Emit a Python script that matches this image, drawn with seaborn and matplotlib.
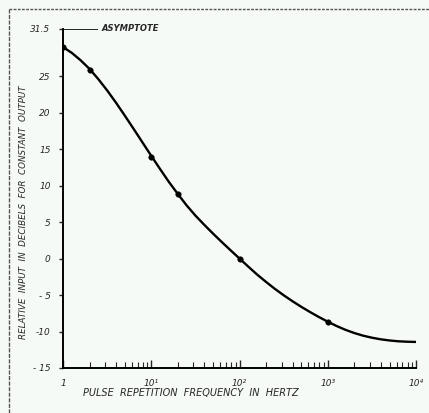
import matplotlib
matplotlib.use('Agg')
import matplotlib.pyplot as plt
from matplotlib.lines import Line2D
from matplotlib.ticker import LogLocator, NullFormatter
import seaborn as sns
import pandas as pd
import numpy as np

# measured points (markers)
freq_pts = [1, 2, 10, 20, 100, 1000]
db_pts = [29.0, 25.9, 14.0, 8.9, 0.0, -8.65]

# smooth curve (every tenth of a decade)
curve_freq = [1, 1.26, 1.58, 2.0, 2.51, 3.16, 3.98, 5.01, 6.31, 7.94,
              10, 12.6, 15.8, 20, 25.1, 31.6, 39.8, 50.1, 63.1, 79.4,
              100, 126, 158, 200, 251, 316, 398, 501, 631, 794,
              1000, 1259, 1585, 1995, 2512, 3162, 3981, 5012, 6310, 7943, 10000]
curve_db = [29.0, 28.2, 27.2, 26.0, 24.61, 23.06, 21.38, 19.6, 17.78, 15.93,
            14.08, 12.26, 10.52, 8.85, 7.3, 5.9, 4.63, 3.42, 2.25, 1.12,
            0.0, -1.12, -2.19, -3.21, -4.15, -5.03, -5.85, -6.62, -7.34, -8.02,
            -8.66, -9.25, -9.77, -10.21, -10.57, -10.85, -11.07, -11.23, -11.34, -11.40, -11.43]

asymptote = 31.5
asym_end = 2.5

yticks = [31.5, 25, 20, 15, 10, 5, 0, -5, -10, -15]
ytick_labels = ['31.5', '25', '20', '15', '10', '5', '0', '- 5', '-10', '- 15']
xticks = [1, 10, 100, 1000, 10000]
xtick_labels = ['1', '10¹', '10²', '10³', '10⁴']

bg = '#f6faf6'
sns.set_style('ticks')
plt.rcParams['font.family'] = ['DejaVu Sans']
plt.rcParams['axes.unicode_minus'] = False

fig = plt.figure(figsize=(4.29, 4.13), dpi=100, facecolor=bg)
ax = fig.add_axes([0.147, 0.109, 0.823, 0.821], facecolor=bg)

curve = pd.DataFrame({'freq': curve_freq, 'db': curve_db})
pts = pd.DataFrame({'freq': freq_pts, 'db': db_pts})
sns.lineplot(data=curve, x='freq', y='db', ax=ax, color='black', linewidth=1.7, sort=False)
sns.scatterplot(data=pts, x='freq', y='db', ax=ax, color='black', s=16, edgecolor='black', zorder=3)

ax.hlines(asymptote, 1, asym_end, color='black', linewidth=1.2)
ax.text(asym_end * 1.08, asymptote, 'ASYMPTOTE', fontsize=6, style='italic', fontweight='bold',
        va='center', ha='left')

ax.set_xscale('log')
ax.set_xlim(1, 10000)
ax.set_ylim(-15, asymptote)
ax.set_xticks(xticks)
ax.set_xticklabels(xtick_labels)
ax.xaxis.set_minor_locator(LogLocator(base=10, subs=np.arange(2, 10)))
ax.xaxis.set_minor_formatter(NullFormatter())
ax.set_yticks(yticks)
ax.set_yticklabels(ytick_labels)

ax.tick_params(axis='x', which='major', direction='in', length=6, width=1, labelsize=6.5, pad=8)
ax.tick_params(axis='x', which='minor', direction='in', length=4, width=0.8)
ax.tick_params(axis='y', which='major', direction='out', length=3, width=1, labelsize=6.5, pad=6)

for t in ax.get_xticklabels() + ax.get_yticklabels():
    t.set_fontstyle('italic')

ax.set_xlabel('PULSE  REPETITION  FREQUENCY  IN  HERTZ', fontsize=7, style='italic')
ax.set_ylabel('RELATIVE  INPUT  IN  DECIBELS  FOR  CONSTANT  OUTPUT', fontsize=6.3, style='italic')
ax.xaxis.set_label_coords(0.363, -0.06)
ax.yaxis.set_label_coords(-0.1, 0.46)

sns.despine(ax=ax)
for s in ['left', 'bottom']:
    ax.spines[s].set_linewidth(1.4)
    ax.spines[s].set_color('black')

# scanned page border
fig.add_artist(Line2D([9 / 429, 1], [1 - 9 / 413, 1 - 9 / 413], transform=fig.transFigure,
                      color='#555555', linewidth=1, linestyle=(0, (2, 1))))
fig.add_artist(Line2D([9 / 429, 9 / 429], [0, 1 - 9 / 413], transform=fig.transFigure,
                      color='#555555', linewidth=1, linestyle=(0, (3, 1))))

fig.savefig('out.png', dpi=100, facecolor=bg)
